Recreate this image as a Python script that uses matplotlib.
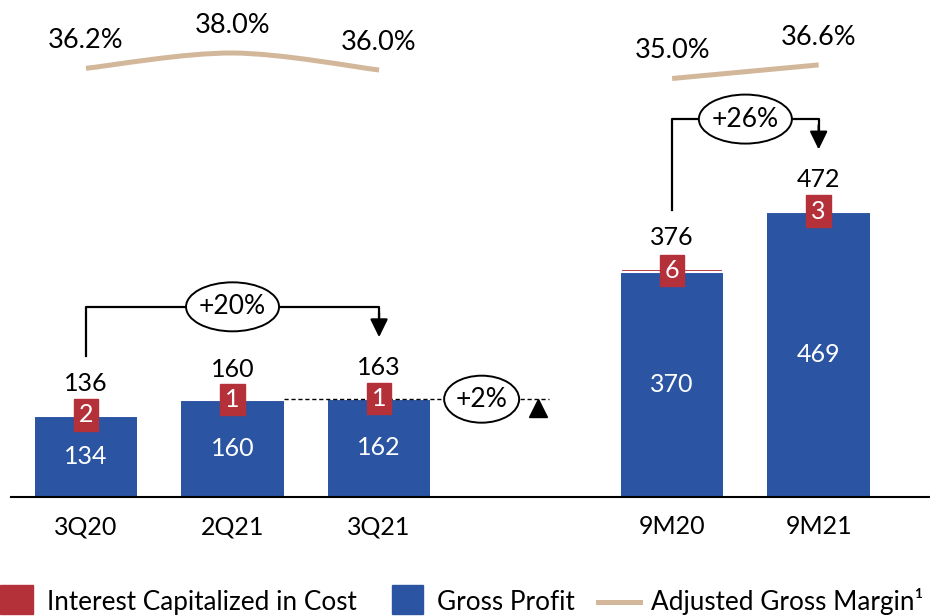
import numpy as np
import matplotlib.pyplot as plt
from matplotlib.patches import Rectangle, Ellipse, PathPatch
from matplotlib.path import Path

plt.rcParams['font.family'] = ['Lato', 'DejaVu Sans']

# data
periods = ['3Q20', '2Q21', '3Q21', '9M20', '9M21']
positions = [0, 1, 2, 4, 5]
gross_profit = [134, 160, 162, 370, 469]
interest_cap = [2, 1, 1, 6, 3]
totals = [136, 160, 163, 376, 472]
margin_q = [36.2, 38.0, 36.0]        # 3Q20, 2Q21, 3Q21
margin_9m = [35.0, 36.6]             # 9M20, 9M21
growth_20 = '+20%'
growth_2 = '+2%'
growth_26 = '+26%'
legend_labels = ['Interest Capitalized in Cost', 'Gross Profit', 'Adjusted Gross Margin¹']

blue = '#2B55A3'
red = '#B5313A'
tan = '#D2B79A'

W, H = 930, 616
fig = plt.figure(figsize=(W / 100, H / 100), dpi=100)
base_px = 497
ax = fig.add_axes([11 / W, 1 - base_px / H, 1 - 11 / W, base_px / H])
x_lo, x_hi = -0.512, 5.76
y_hi = 818
ax.set_xlim(x_lo, x_hi)
ax.set_ylim(0, y_hi)
px_x = (W - 11) / (x_hi - x_lo)   # pixels per x unit
px_y = base_px / y_hi             # pixels per y unit

bw = 0.70
ax.bar(positions, gross_profit, width=bw, color=blue, zorder=2)
ax.bar(positions, interest_cap, bottom=gross_profit, width=bw, color=red,
       edgecolor='white', linewidth=1.5, zorder=2)

fs = 18
for x, g, ic, t in zip(positions, gross_profit, interest_cap, totals):
    ax.text(x, g / 2, str(g), color='white', ha='center', va='center', fontsize=fs, zorder=4)
    bx, by = 24.5 / px_x, 31.5 / px_y
    yc = g + ic / 2
    ax.add_patch(Rectangle((x - bx / 2, yc - by / 2), bx, by, color=red, zorder=4))
    ax.text(x, yc, str(ic), color='white', ha='center', va='center', fontsize=fs, zorder=5)
    ax.annotate(str(t), (x, t), xytext=(0, 22), textcoords='offset points',
                ha='center', va='center', fontsize=fs)

ax.set_xticks(positions, periods)
ax.tick_params(axis='x', length=0, pad=13, labelsize=fs)
ax.set_yticks([])
for s in ['left', 'right', 'top']:
    ax.spines[s].set_visible(False)
ax.spines['bottom'].set_linewidth(1.5)


def bracket(x0, x1, t0, t1, label):
    y_top = max(t0, t1) + 150
    ax.plot([x0, x0, x1, x1], [t0 + 96, y_top, y_top, y_top - 20], color='black', lw=1.6, zorder=3)
    ax.annotate('', xy=(x1, t1 + 100), xytext=(x1, y_top - 10),
                arrowprops=dict(arrowstyle='-|>,head_length=0.55,head_width=0.27',
                                mutation_scale=20, color='black', lw=1.6,
                                shrinkA=0, shrinkB=0), zorder=3)
    xc = (x0 + x1) / 2
    ax.add_patch(Ellipse((xc, y_top), 93 / px_x, 49 / px_y, facecolor='white',
                         edgecolor='black', lw=1.4, zorder=5))
    ax.text(xc, y_top, label, ha='center', va='center', fontsize=19, zorder=6)


bracket(positions[0], positions[2], totals[0], totals[2], growth_20)
bracket(positions[3], positions[4], totals[3], totals[4], growth_26)

# +2% vs previous quarter
ref = gross_profit[1] + 1
ax.plot([positions[1] + bw / 2, 3.16], [ref, ref], ls=(0, (3, 2)), color='black', lw=1, zorder=3)
ax.add_patch(Ellipse((2.70, ref), 75 / px_x, 47 / px_y, facecolor='white',
                     edgecolor='black', lw=1.4, zorder=5))
ax.text(2.70, ref, growth_2, ha='center', va='center', fontsize=19, zorder=6)
ax.plot([3.085], [ref - 9 / px_y], marker='^', markersize=13.5, color='black', zorder=6)

# adjusted gross margin on secondary axis
ax2 = ax.twinx()
ax2.set_ylim(38 - (base_px - 53) / 8.5, 38 + 53 / 8.5)
ax2.axis('off')


def smooth_path(xs, ys):
    pts = np.column_stack([xs, ys])
    verts = [pts[0]]
    codes = [Path.MOVETO]
    n = len(pts)
    for i in range(n - 1):
        p_prev = pts[max(i - 1, 0)]
        p_next = pts[min(i + 2, n - 1)]
        c1 = pts[i] + (pts[i + 1] - p_prev) / 6
        c2 = pts[i + 1] - (p_next - pts[i]) / 6
        verts += [c1, c2, pts[i + 1]]
        codes += [Path.CURVE4] * 3
    return Path(verts, codes)


for xs, ys in [(positions[:3], margin_q), (positions[3:], margin_9m)]:
    ax2.add_patch(PathPatch(smooth_path(xs, ys), facecolor='none', edgecolor=tan,
                            lw=3.6, capstyle='butt', zorder=2))
    for x, v in zip(xs, ys):
        ax2.annotate(f'{v:.1f}%', (x, v), xytext=(0, 20), textcoords='offset points',
                     ha='center', va='center', fontsize=19.5)

# legend laid out by hand in pixel coordinates
lax = fig.add_axes([0, 0, 1, 1])
lax.set_xlim(0, W)
lax.set_ylim(H, 0)
lax.axis('off')
lax.add_patch(Rectangle((0, 585), 33, 29, color=red))
lax.text(47, 610, legend_labels[0], fontsize=18.8, va='baseline')
lax.add_patch(Rectangle((392, 585), 31, 29, color=blue))
lax.text(437, 610, legend_labels[1], fontsize=18.8, va='baseline')
lax.plot([598, 640], [602, 602], color=tan, lw=3.6)
lax.text(651, 610, legend_labels[2], fontsize=18.8, va='baseline')

fig.savefig('out.png', dpi=100)
